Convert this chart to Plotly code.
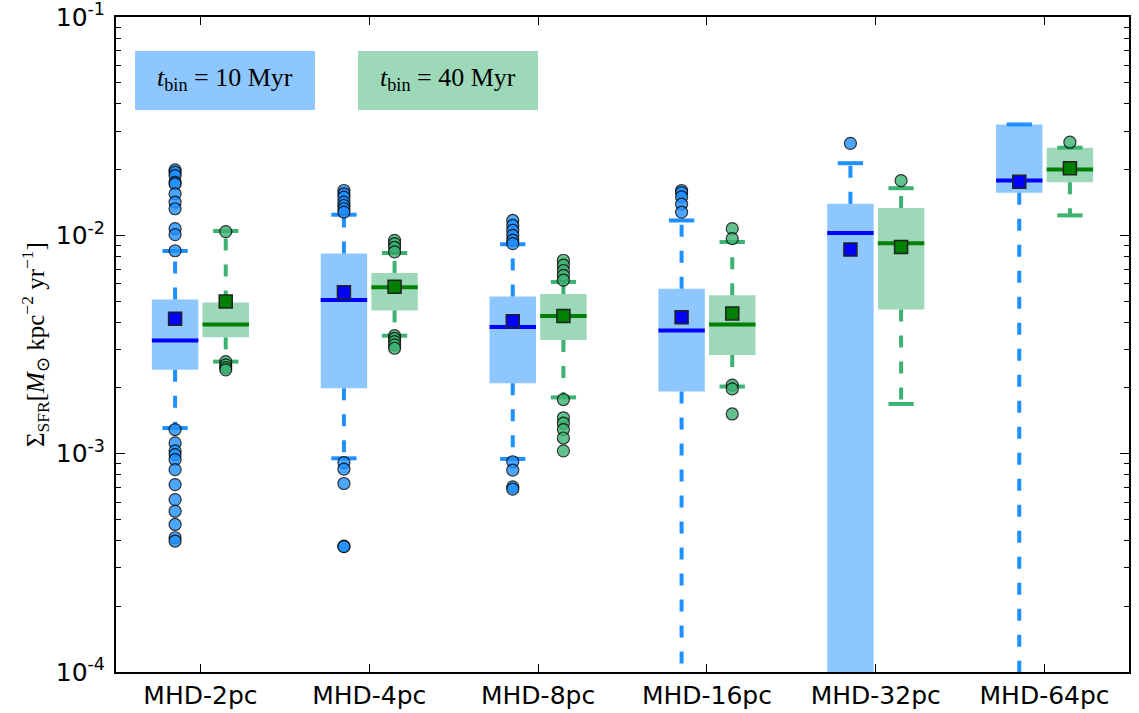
import plotly.graph_objects as go

# ---- data -------------------------------------------------------------
categories = ["MHD-2pc", "MHD-4pc", "MHD-8pc", "MHD-16pc", "MHD-32pc", "MHD-64pc"]

# t_bin = 10 Myr
q1_10 = [2.42e-3, 1.995e-3, 2.10e-3, 1.925e-3, 5.0e-5, 1.567e-2]
med_10 = [3.30e-3, 5.06e-3, 3.80e-3, 3.67e-3, 1.025e-2, 1.782e-2]
q3_10 = [5.08e-3, 8.25e-3, 5.25e-3, 5.69e-3, 1.396e-2, 3.22e-2]
lo_10 = [1.31e-3, 9.52e-4, 9.46e-4, 4.0e-5, 1.0e-5, 4.0e-5]
hi_10 = [8.48e-3, 1.243e-2, 9.10e-3, 1.17e-2, 2.14e-2, 3.22e-2]
mean_10 = [4.15e-3, 5.49e-3, 4.04e-3, 4.21e-3, 8.61e-3, 1.758e-2]
fliers_10 = [
    [1.995e-2, 1.946e-2, 1.879e-2, 1.75e-2, 1.72e-2, 1.55e-2, 1.42e-2, 1.324e-2,
     1.073e-2, 1.007e-2, 8.5e-3, 1.29e-3, 1.12e-3, 1.03e-3, 9.9e-4, 9.4e-4,
     8.45e-4, 7.22e-4, 6.16e-4, 5.45e-4, 4.74e-4, 4.12e-4, 3.98e-4],
    [1.605e-2, 1.55e-2, 1.496e-2, 1.42e-2, 1.37e-2, 1.324e-2, 1.278e-2,
     9.1e-4, 8.5e-4, 7.3e-4, 3.77e-4, 3.75e-4],
    [1.17e-2, 1.11e-2, 1.055e-2, 1.0e-2, 9.5e-3, 9.16e-3,
     9.18e-4, 8.41e-4, 7.05e-4, 6.88e-4],
    [1.605e-2, 1.57e-2, 1.50e-2, 1.39e-2, 1.278e-2],
    [2.638e-2],
    [],
]

# t_bin = 40 Myr
q1_40 = [3.41e-3, 4.53e-3, 3.32e-3, 2.83e-3, 4.58e-3, 1.75e-2]
med_40 = [3.91e-3, 5.79e-3, 4.27e-3, 3.91e-3, 9.19e-3, 2.0e-2]
q3_40 = [4.93e-3, 6.73e-3, 5.38e-3, 5.31e-3, 1.334e-2, 2.52e-2]
lo_40 = [2.64e-3, 3.47e-3, 1.81e-3, 2.03e-3, 1.69e-3, 1.234e-2]
hi_40 = [1.047e-2, 8.3e-3, 6.12e-3, 9.32e-3, 1.644e-2, 2.52e-2]
mean_40 = [4.98e-3, 5.81e-3, 4.27e-3, 4.39e-3, 8.85e-3, 2.03e-2]
fliers_40 = [
    [1.04e-2, 2.64e-3, 2.55e-3, 2.48e-3, 2.42e-3],
    [9.49e-3, 9.16e-3, 8.8e-3, 8.4e-3, 3.47e-3, 3.37e-3, 3.26e-3, 3.15e-3, 3.04e-3],
    [7.69e-3, 7.3e-3, 6.9e-3, 6.56e-3, 6.24e-3,
     1.77e-3, 1.46e-3, 1.38e-3, 1.29e-3, 1.18e-3, 1.03e-3],
    [1.073e-2, 9.66e-3, 2.06e-3, 1.98e-3, 1.52e-3],
    [1.782e-2],
    [2.67e-2],
]

y_ticks = [1e-4, 1e-3, 1e-2, 1e-1]
y_ticktext = ["10<sup>-4</sup>", "10<sup>-3</sup>", "10<sup>-2</sup>", "10<sup>-1</sup>"]

# ---- styling ----------------------------------------------------------
BOX_W = 0.275
CAP_W = 0.15
OFFSET = 0.15
SERIF = "Liberation Serif"

styles = {
    "10": dict(face="rgba(30,144,255,0.5)", whisk="#1e90ff", med="#0000ff",
               mean="#0000ff", flier="#1e90ff"),
    "40": dict(face="rgba(60,179,113,0.5)", whisk="#3cb371", med="#008000",
               mean="#008000", flier="#3cb371"),
}

positions = list(range(1, len(categories) + 1))
fig = go.Figure()


def add_boxes(shift, q1, med, q3, lo, hi, mean, fliers, st):
    xs = [p + shift for p in positions]
    # boxes
    bx, by = [], []
    for x, a, b in zip(xs, q1, q3):
        bx += [x - BOX_W / 2, x + BOX_W / 2, x + BOX_W / 2, x - BOX_W / 2, x - BOX_W / 2, None]
        by += [a, a, b, b, a, None]
    fig.add_trace(go.Scatter(x=bx, y=by, mode="lines", fill="toself",
                             fillcolor=st["face"], line=dict(width=0),
                             hoverinfo="skip", showlegend=False))
    # whiskers (drawn outward from the box)
    wx, wy = [], []
    for x, a, b, l, h in zip(xs, q1, q3, lo, hi):
        wx += [x, x, None, x, x, None]
        wy += [b, h, None, a, l, None]
    fig.add_trace(go.Scatter(x=wx, y=wy, mode="lines",
                             line=dict(color=st["whisk"], width=4, dash="12px,14px"),
                             hoverinfo="skip", showlegend=False))
    # caps
    cx, cy = [], []
    for x, l, h in zip(xs, lo, hi):
        cx += [x - CAP_W / 2, x + CAP_W / 2, None, x - CAP_W / 2, x + CAP_W / 2, None]
        cy += [h, h, None, l, l, None]
    fig.add_trace(go.Scatter(x=cx, y=cy, mode="lines",
                             line=dict(color=st["whisk"], width=4),
                             hoverinfo="skip", showlegend=False))
    # medians
    mx, my = [], []
    for x, m in zip(xs, med):
        mx += [x - BOX_W / 2, x + BOX_W / 2, None]
        my += [m, m, None]
    fig.add_trace(go.Scatter(x=mx, y=my, mode="lines",
                             line=dict(color=st["med"], width=4),
                             hoverinfo="skip", showlegend=False))
    # outliers
    fx, fy = [], []
    for x, fl in zip(xs, fliers):
        fx += [x] * len(fl)
        fy += fl
    fig.add_trace(go.Scatter(x=fx, y=fy, mode="markers",
                             marker=dict(symbol="circle", size=12, color=st["flier"],
                                         opacity=0.8,
                                         line=dict(color="black", width=1.2)),
                             showlegend=False))
    # means
    fig.add_trace(go.Scatter(x=xs, y=mean, mode="markers",
                             marker=dict(symbol="square", size=13, color=st["mean"],
                                         line=dict(color="#222222", width=1.5)),
                             showlegend=False))


add_boxes(-OFFSET, q1_10, med_10, q3_10, lo_10, hi_10, mean_10, fliers_10, styles["10"])
add_boxes(+OFFSET, q1_40, med_40, q3_40, lo_40, hi_40, mean_40, fliers_40, styles["40"])

# labelled boxes naming the two time bins
labels = [
    ("<i>t</i><sub>bin</sub> = 10 Myr", 0.0188, 0.1964, "rgba(30,144,255,0.5)"),
    ("<i>t</i><sub>bin</sub> = 40 Myr", 0.2389, 0.4166, "rgba(60,179,113,0.5)"),
]
for text, x0, x1, col in labels:
    fig.add_shape(type="rect", xref="x domain", yref="y domain",
                  x0=x0, x1=x1, y0=0.858, y1=0.948,
                  fillcolor=col, line=dict(width=0), layer="below")
    fig.add_annotation(xref="x domain", yref="y domain", x=(x0 + x1) / 2, y=0.905,
                       xanchor="center", yanchor="middle",
                       text=text, showarrow=False,
                       font=dict(family=SERIF, size=26, color="black"))

minor_vals = [m * 10.0 ** e for e in range(-4, -1) for m in range(2, 10)]

fig.update_xaxes(
    range=[0.5, 6.5], tickmode="array", tickvals=positions, ticktext=categories,
    ticks="inside", ticklen=8, tickwidth=1, tickcolor="black",
    showline=True, linecolor="black", linewidth=2, mirror="allticks",
    showgrid=False, zeroline=False, automargin=False, ticklabeloverflow="allow",
    tickfont=dict(family="DejaVu Sans", size=25, color="black"),
)
fig.update_yaxes(
    type="log", range=[-4, -0.99995], tickmode="array", tickvals=y_ticks,
    ticktext=y_ticktext,
    ticks="inside", ticklen=9, tickwidth=1, tickcolor="black",
    minor=dict(tickmode="array", tickvals=minor_vals, ticks="inside",
               ticklen=5, tickwidth=1, tickcolor="black", showgrid=False),
    showline=True, linecolor="black", linewidth=2, mirror="allticks",
    showgrid=False, zeroline=False, automargin=False, ticklabelstandoff=4,
    ticklabeloverflow="allow",
    tickfont=dict(family="DejaVu Sans", size=25, color="black"),
    title=dict(text="Σ<sub>SFR</sub>[<i>M</i><sub>⊙</sub> kpc<sup>−2</sup> yr<sup>−1</sup>]",
               font=dict(family=SERIF, size=25, color="black"), standoff=4),
)

fig.update_layout(
    width=1139, height=713,
    margin=dict(l=116, r=10, t=17, b=41),
    paper_bgcolor="white", plot_bgcolor="white",
    showlegend=False,
)

fig.write_html("out.html")
